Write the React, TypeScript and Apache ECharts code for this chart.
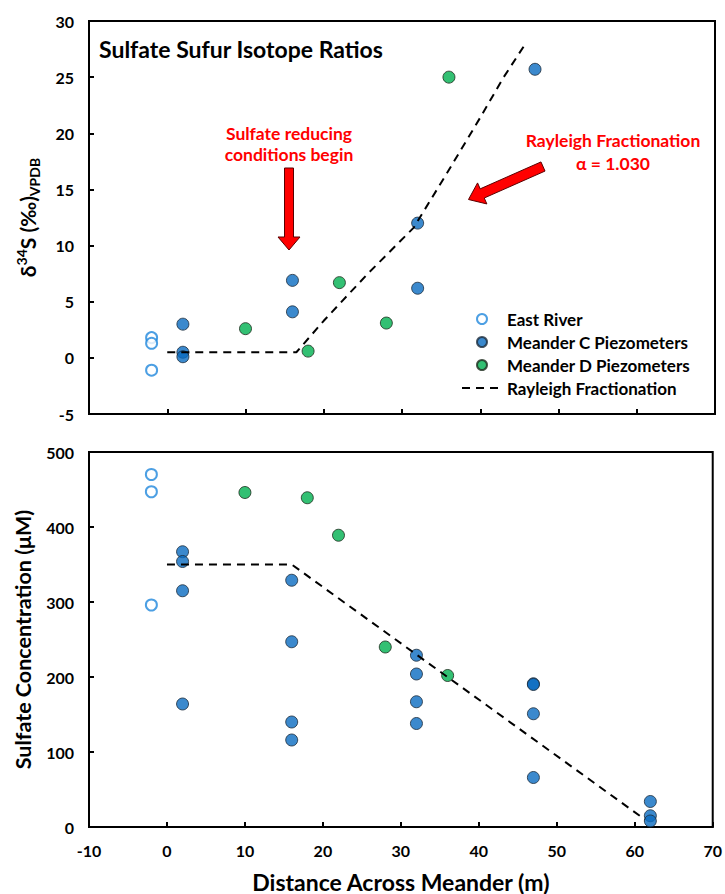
import React, { useEffect, useRef } from "react";
import * as echarts from "echarts";

// ---------- Data ----------
// Top panel: δ34S (‰ VPDB) vs distance (m)
const eastRiverIso: [number, number][] = [[-2, 1.8], [-2, 1.3], [-2, -1.1]];
const meanderCIso: [number, number][] = [
  [2, 3.0], [2, 0.5], [2, 0.1],
  [16, 6.9], [16, 4.1],
  [32, 12.0], [32, 6.2],
  [47, 25.7],
];
const meanderDIso: [number, number][] = [
  [10, 2.6], [18, 0.6], [22, 6.7], [28, 3.1], [36, 25.0],
];
const rayleighIso: [number, number][] = [
  [0, 0.5], [16.5, 0.5], [20, 3.3], [25.5, 7.4], [31.5, 11.6],
  [35.7, 16.4], [40, 21.4], [43, 25.0], [45.8, 28.0],
];

// Bottom panel: sulfate concentration (µM) vs distance (m)
const eastRiverConc: [number, number][] = [[-2, 470], [-2, 447], [-2, 296]];
const meanderCConc: [number, number][] = [
  [2, 367], [2, 354], [2, 315], [2, 164],
  [16, 329], [16, 247], [16, 140], [16, 116],
  [32, 229], [32, 204], [32, 167], [32, 138],
  [47, 191], [47, 190], [47, 151], [47, 66],
  [62, 34], [62, 15], [62, 8],
];
const meanderDConc: [number, number][] = [
  [10, 446], [18, 439], [22, 389], [28, 240], [36, 202],
];
const rayleighConc: [number, number][] = [[0, 350], [16, 350], [61.3, 10]];

const xTicks = { min: -10, max: 70, interval: 10 };
const yTopTicks = { min: -5, max: 30, interval: 5 };
const yBottomTicks = { min: 0, max: 500, interval: 100 };

const seriesNames = [
  "East River",
  "Meander C Piezometers",
  "Meander D Piezometers",
  "Rayleigh Fractionation",
];

// ---------- Styles ----------
const FONT = "Lato, 'Open Sans', sans-serif";
const BLUE = "#0a6cc0";
const GREEN = "#00b050";
const OPEN_BLUE = "#1f87dc";
const RED = "#ff0000";

function arrowPoints(
  tail: [number, number],
  tip: [number, number],
  shaftHalf: number,
  headHalf: number,
  headLen: number
): number[][] {
  const dx = tip[0] - tail[0];
  const dy = tip[1] - tail[1];
  const len = Math.hypot(dx, dy);
  const ux = dx / len, uy = dy / len;
  const nx = -uy, ny = ux;
  const bx = tip[0] - ux * headLen, by = tip[1] - uy * headLen;
  return [
    [tail[0] + nx * shaftHalf, tail[1] + ny * shaftHalf],
    [bx + nx * shaftHalf, by + ny * shaftHalf],
    [bx + nx * headHalf, by + ny * headHalf],
    [tip[0], tip[1]],
    [bx - nx * headHalf, by - ny * headHalf],
    [bx - nx * shaftHalf, by - ny * shaftHalf],
    [tail[0] - nx * shaftHalf, tail[1] - ny * shaftHalf],
  ];
}

function redText(text: string, x: number, y: number) {
  return {
    type: "text",
    x, y,
    style: {
      text, fill: RED, fontFamily: FONT, fontSize: 17.5, fontWeight: "bold",
      align: "center", verticalAlign: "middle",
    },
  };
}

export default function App() {
  const ref = useRef<HTMLDivElement>(null);

  useEffect(() => {
    document.body.style.margin = "0";
    if (!ref.current) return;
    const chart = echarts.init(ref.current, undefined, { renderer: "svg" });

    const axisLine = { show: true, onZero: false, lineStyle: { color: "#000", width: 2 } };
    const axisTick = { show: true, inside: true, length: 5, lineStyle: { color: "#000", width: 2 } };
    const axisLabel = { color: "#000", fontSize: 16, fontWeight: "bold" as const, fontFamily: FONT, margin: 15 };

    const openSym = {
      symbol: "circle",
      symbolSize: 11,
      itemStyle: { color: "#fff", borderColor: OPEN_BLUE, borderWidth: 2 },
    };
    const cSym = {
      symbol: "circle",
      symbolSize: 12,
      itemStyle: { color: BLUE, borderColor: "#1c2a3a", borderWidth: 1 },
    };
    const dSym = {
      symbol: "circle",
      symbolSize: 12,
      itemStyle: { color: GREEN, borderColor: "#1c2a1c", borderWidth: 1 },
    };
    const dashLine = {
      symbol: "none",
      showSymbol: false,
      lineStyle: { color: "#000", width: 2, type: [8, 6] as number[] },
      itemStyle: { color: "#000" },
    };

    const option: any = {
      animation: false,
      backgroundColor: "#fff",
      title: {
        text: "Sulfate Sufur Isotope Ratios",
        left: 99,
        top: 37,
        padding: 0,
        textStyle: { fontFamily: FONT, fontSize: 23, fontWeight: "bold", color: "#000" },
      },
      legend: {
        data: [
          seriesNames[0],
          seriesNames[1],
          seriesNames[2],
          { name: seriesNames[3], itemStyle: { color: "rgba(0,0,0,0)", borderWidth: 0 } },
        ],
        orient: "vertical",
        left: 461,
        top: 310,
        itemWidth: 40,
        itemHeight: 10,
        itemGap: 5,
        padding: 0,
        textStyle: { fontFamily: FONT, fontSize: 17, fontWeight: "bold", color: "#000", lineHeight: 18 },
      },
      grid: [
        { left: 89, top: 21, width: 626, height: 393, show: true, borderColor: "#000", borderWidth: 2, backgroundColor: "transparent" },
        { left: 89, top: 452, width: 626, height: 376, show: true, borderColor: "#000", borderWidth: 2, backgroundColor: "transparent" },
      ],
      xAxis: [
        {
          gridIndex: 0, type: "value", ...xTicks,
          axisLine, axisTick, axisLabel: { show: false }, splitLine: { show: false },
        },
        {
          gridIndex: 1, type: "value", ...xTicks,
          axisLine, axisTick, axisLabel, splitLine: { show: false },
          name: "Distance Across Meander (m)",
          nameLocation: "middle",
          nameGap: 43,
          nameTextStyle: { fontFamily: FONT, fontSize: 23, fontWeight: "bold", color: "#000" },
        },
      ],
      yAxis: [
        {
          gridIndex: 0, type: "value", ...yTopTicks,
          axisLine, axisTick, axisLabel, splitLine: { show: false },
          name: "{m|δ}{sup|34}{m|S (‰)}{sub|VPDB}",
          nameLocation: "middle",
          nameRotate: 90,
          nameGap: 48,
          nameTextStyle: {
            fontFamily: FONT, fontSize: 21, fontWeight: "bold", color: "#000",
            rich: {
              m: { fontFamily: FONT, fontSize: 21, fontWeight: "bold", color: "#000", lineHeight: 27 },
              sup: { fontFamily: FONT, fontSize: 14, fontWeight: "bold", color: "#000", lineHeight: 14, verticalAlign: "top" },
              sub: { fontFamily: FONT, fontSize: 14, fontWeight: "bold", color: "#000", lineHeight: 14, verticalAlign: "bottom" },
            },
          },
        },
        {
          gridIndex: 1, type: "value", ...yBottomTicks,
          axisLine, axisTick, axisLabel, splitLine: { show: false },
          name: "Sulfate Concentration (μM)",
          nameLocation: "middle",
          nameRotate: 90,
          nameGap: 55,
          nameTextStyle: { fontFamily: FONT, fontSize: 21.5, fontWeight: "bold", color: "#000" },
        },
      ],
      series: [
        { name: seriesNames[0], type: "scatter", xAxisIndex: 0, yAxisIndex: 0, data: eastRiverIso, ...openSym },
        { name: seriesNames[1], type: "scatter", xAxisIndex: 0, yAxisIndex: 0, data: meanderCIso, ...cSym },
        { name: seriesNames[2], type: "scatter", xAxisIndex: 0, yAxisIndex: 0, data: meanderDIso, ...dSym },
        { name: seriesNames[3], type: "line", xAxisIndex: 0, yAxisIndex: 0, data: rayleighIso, ...dashLine, z: 3 },
        { name: seriesNames[0], type: "scatter", xAxisIndex: 1, yAxisIndex: 1, data: eastRiverConc, ...openSym },
        { name: seriesNames[1], type: "scatter", xAxisIndex: 1, yAxisIndex: 1, data: meanderCConc, ...cSym },
        { name: seriesNames[2], type: "scatter", xAxisIndex: 1, yAxisIndex: 1, data: meanderDConc, ...dSym },
        { name: seriesNames[3], type: "line", xAxisIndex: 1, yAxisIndex: 1, data: rayleighConc, ...dashLine, z: 3 },
      ],
      graphic: [
        redText("Sulfate reducing", 289, 133),
        redText("conditions begin", 289, 154),
        {
          type: "polygon",
          shape: { points: arrowPoints([289, 168], [289, 250], 4.5, 11, 13) },
          style: { fill: RED, stroke: "#5a0000", lineWidth: 1 },
        },
        redText("Rayleigh Fractionation", 613, 140),
        redText("α = 1.030", 613, 163),
        {
          type: "polygon",
          shape: { points: arrowPoints([543, 166.5], [468.5, 199.5], 5, 11.5, 15) },
          style: { fill: RED, stroke: "#5a0000", lineWidth: 1 },
        },
      ],
    };

    chart.setOption(option);
    return () => chart.dispose();
  }, []);

  return <div ref={ref} style={{ width: 725, height: 894 }} />;
}
